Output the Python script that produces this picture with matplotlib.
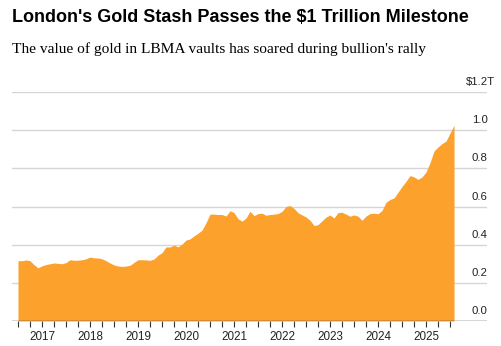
import matplotlib
matplotlib.use("Agg")
import matplotlib.pyplot as plt
import numpy as np

# monthly value of gold held in LBMA vaults, $ trillion, Jul 2016 - Aug 2025
start_year = 2016
start_month = 7
values = [
    0.316, 0.316, 0.320, 0.316, 0.295, 0.279, 0.289, 0.296, 0.300, 0.304,
    0.302, 0.300, 0.306, 0.321, 0.318, 0.319, 0.321, 0.326, 0.335, 0.331,
    0.330, 0.326, 0.316, 0.304, 0.294, 0.288, 0.286, 0.288, 0.292, 0.307,
    0.321, 0.321, 0.320, 0.318, 0.325, 0.345, 0.358, 0.388, 0.388, 0.398,
    0.388, 0.403, 0.424, 0.430, 0.446, 0.460, 0.476, 0.515, 0.560, 0.560,
    0.558, 0.558, 0.550, 0.578, 0.568, 0.536, 0.523, 0.540, 0.575, 0.552,
    0.563, 0.565, 0.554, 0.558, 0.560, 0.563, 0.575, 0.600, 0.605, 0.590,
    0.567, 0.556, 0.545, 0.528, 0.500, 0.505, 0.525, 0.545, 0.555, 0.540,
    0.568, 0.570, 0.560, 0.549, 0.556, 0.549, 0.528, 0.550, 0.563, 0.565,
    0.562, 0.580, 0.622, 0.637, 0.645, 0.675, 0.705, 0.732, 0.762, 0.755,
    0.742, 0.755, 0.781, 0.830, 0.891, 0.912, 0.930, 0.943, 0.985, 1.026,
]
years = [2017, 2018, 2019, 2020, 2021, 2022, 2023, 2024, 2025]
y_ticks = [0.0, 0.2, 0.4, 0.6, 0.8, 1.0, 1.2]
y_labels = ["0.0", "0.2", "0.4", "0.6", "0.8", "1.0", "$1.2T"]

# time as fractional years
t = start_year + (start_month - 1) / 12 + np.arange(len(values)) / 12

W, H = 502, 346
fig = plt.figure(figsize=(W / 100, H / 100), dpi=100)
left, right, bottom, top = 12, 487, 321, 92
ax = fig.add_axes([left / W, 1 - bottom / H, (right - left) / W, (bottom - top) / H])

orange = "#fda12d"
ax.fill_between(t, 0, values, color=orange, lw=0, zorder=2)

ax.set_xlim(2016.375, 2026.27)
ax.set_ylim(0, 1.2)

for v in y_ticks[1:]:
    ax.axhline(v, color="#d6d6d6", lw=1, zorder=1)
ax.axhline(0, color="#333333", lw=1, zorder=3)

# value labels sit above their gridlines, digits lined up on the left
for v, lab in zip(y_ticks, y_labels):
    dx = -6 if lab.startswith("$") else 0
    ax.annotate(lab, xy=(472 / W, v), xycoords=("figure fraction", "data"),
                xytext=(dx * 0.72, 3.5), textcoords="offset points",
                ha="left", va="bottom", fontsize=8.2, color="#222222",
                family="Liberation Sans")

for s in ax.spines.values():
    s.set_visible(False)
ax.set_yticks([])

quarters = np.arange(2016.5, 2025.6, 0.25)
ax.set_xticks(years)
ax.set_xticklabels([str(y) for y in years], fontsize=8.4, family="Liberation Sans",
                   color="#222222")
ax.set_xticks(quarters, minor=True)
ax.tick_params(axis="x", which="both", length=4, width=0.8, color="#333333",
               direction="out", pad=3)

fig.text(12 / W, 1 - 18 / H, "London's Gold Stash Passes the $1 Trillion Milestone",
         fontsize=12.95, fontweight="bold", family="Liberation Sans",
         va="center", ha="left", color="black")
fig.text(12 / W, 1 - 49 / H, "The value of gold in LBMA vaults has soared during bullion's rally",
         fontsize=11.05, family="Liberation Serif", va="center", ha="left", color="black")

fig.savefig("out.png", dpi=100)
